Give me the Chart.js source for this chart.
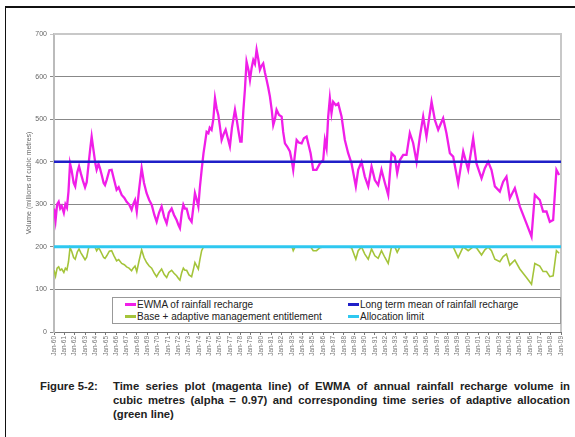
<!DOCTYPE html>
<html lang="en">
<head>
    <meta charset="UTF-8">
    <title>Figure 5-2</title>
    <script src="https://cdn.jsdelivr.net/npm/chart.js"></script>
    <style>
        body { margin: 0; background: #fff; font-family: Arial, "Liberation Sans", sans-serif; }
        #page { position: relative; width: 575px; height: 437px; overflow: hidden; }
        #chart { position: absolute; left: 0; top: 0; }
        .frame-top { position: absolute; left: 5px; top: 6px; width: 570px; height: 2px; background: #111; }
        .frame-left { position: absolute; left: 5px; top: 6px; width: 1px; height: 431px; background: #111; }
        #legend { position: absolute; left: 112px; top: 297px; width: 447px; height: 25px;
                  border: 1px solid #999; background: #fff; font-size: 10px; color: #222; }
        .item { position: absolute; white-space: nowrap; line-height: 12px; }
        .item i { display: inline-block; width: 11px; height: 3px; vertical-align: middle; margin-right: 1px; position: relative; top: -1px; }
        .caption { position: absolute; font-weight: bold; font-size: 11.3px; color: #222; white-space: nowrap; line-height: 14px; }
        .just { width: 457px; text-align: justify; text-align-last: justify; }
    </style>
</head>
<body>
<div id="page">
    <div class="frame-top"></div>
    <div class="frame-left"></div>
    <canvas id="chart" width="575" height="365"></canvas>

    <div id="legend">
        <div class="item" style="left:12px; top:1px;"><i style="background:#f01ee8"></i>EWMA of rainfall recharge</div>
        <div class="item" style="left:235px; top:1px;"><i style="background:#1f1fc8"></i>Long term mean of rainfall recharge</div>
        <div class="item" style="left:12px; top:13px;"><i style="background:#a4c43a"></i>Base + adaptive management entitlement</div>
        <div class="item" style="left:235px; top:13px;"><i style="background:#2ec8f0"></i>Allocation limit</div>
    </div>

    <div class="caption" style="left:40px; top:379px;">Figure 5-2:</div>
    <div class="caption just" style="left:113px; top:379px;">Time series plot (magenta line) of EWMA of annual rainfall recharge volume in</div>
    <div class="caption just" style="left:113px; top:393px;">cubic metres (alpha = 0.97) and corresponding time series of adaptive allocation</div>
    <div class="caption" style="left:113px; top:407px;">(green line)</div>
</div>

<script>
    // Time (decimal years) and volumes (millions of m3)
    const years = [
        1960.00, 1960.15, 1960.30, 1960.45, 1960.60, 1960.75, 1960.95, 1961.10, 1961.25, 1961.40,
        1961.55, 1961.70, 1961.90, 1962.05, 1962.25, 1962.42, 1962.60, 1962.80, 1963.00, 1963.16,
        1963.35, 1963.50, 1963.64, 1963.80, 1964.00, 1964.12, 1964.30, 1964.44, 1964.60, 1964.80,
        1964.93, 1965.10, 1965.35, 1965.57, 1965.80, 1966.05, 1966.25, 1966.54, 1966.80, 1967.02,
        1967.25, 1967.50, 1967.65, 1967.83, 1968.00, 1968.20, 1968.47, 1968.70, 1968.95, 1969.20,
        1969.44, 1969.70, 1969.92, 1970.15, 1970.40, 1970.65, 1970.89, 1971.10, 1971.37, 1971.60,
        1971.85, 1972.05, 1972.17, 1972.35, 1972.50, 1972.65, 1972.82, 1973.05, 1973.30, 1973.50,
        1973.62, 1973.80, 1973.95, 1974.10, 1974.27, 1974.45, 1974.59, 1974.75, 1974.92, 1975.05,
        1975.23, 1975.40, 1975.56, 1975.72, 1975.88, 1976.05, 1976.20, 1976.40, 1976.59, 1976.80,
        1977.00, 1977.20, 1977.49, 1977.65, 1977.81, 1978.00, 1978.13, 1978.30, 1978.45, 1978.61,
        1978.80, 1978.94, 1979.10, 1979.26, 1979.42, 1979.58, 1979.75, 1979.90, 1980.05, 1980.22,
        1980.38, 1980.55, 1980.70, 1980.87, 1981.05, 1981.19, 1981.35, 1981.51, 1981.75, 1982.00,
        1982.15, 1982.32, 1982.55, 1982.80, 1983.00, 1983.12, 1983.30, 1983.45, 1983.65, 1983.93,
        1984.15, 1984.41, 1984.60, 1984.80, 1985.05, 1985.37, 1985.70, 1986.02, 1986.18, 1986.34,
        1986.50, 1986.66, 1986.82, 1986.98, 1987.24, 1987.47, 1987.79, 1988.11, 1988.43, 1988.76,
        1989.17, 1989.40, 1989.72, 1990.04, 1990.37, 1990.69, 1991.01, 1991.33, 1991.65, 1991.98,
        1992.30, 1992.62, 1992.94, 1993.17, 1993.43, 1993.75, 1994.07, 1994.39, 1994.71, 1995.04,
        1995.36, 1995.68, 1996.00, 1996.49, 1996.81, 1997.13, 1997.61, 1997.93, 1998.26, 1998.58,
        1999.06, 1999.55, 2000.03, 2000.51, 2000.83, 2001.32, 2001.64, 2001.96, 2002.28, 2002.61,
        2003.09, 2003.41, 2003.73, 2004.05, 2004.54, 2005.02, 2005.66, 2006.15, 2006.47, 2006.95,
        2007.27, 2007.60, 2007.92, 2008.24, 2008.56, 2008.82
    ];

    const ewma = [
        290, 262, 300, 306, 290, 296, 280, 300, 292, 330,
        396, 380, 350, 342, 375, 389, 372, 355, 340, 352,
        396, 430, 459, 430, 395, 381, 395, 385, 370, 350,
        345, 358, 380, 381, 358, 334, 340, 322, 315, 306,
        300, 287, 300, 310, 283, 330, 385, 350, 326, 310,
        299, 275, 259, 280, 295, 270, 255, 280, 290, 275,
        263, 250, 244, 280, 299, 290, 290, 268, 259, 300,
        326, 310, 295, 340, 381, 420, 443, 470, 467, 480,
        475, 500, 549, 525, 510, 480, 451, 465, 475, 455,
        436, 480, 522, 500, 475, 447, 447, 520, 569, 635,
        615, 592, 620, 639, 630, 663, 640, 616, 625, 631,
        610, 592, 575, 553, 520, 486, 500, 522, 510, 506,
        470, 443, 435, 424, 400, 381, 420, 451, 445, 443,
        455, 459, 440, 420, 381, 381, 396, 404, 451, 432,
        506, 549, 514, 541, 533, 537, 506, 451, 420, 396,
        342, 381, 400, 365, 342, 389, 357, 345, 381, 350,
        322, 420, 412, 373, 404, 416, 416, 467, 444, 400,
        459, 506, 459, 541, 498, 475, 502, 467, 420, 412,
        349, 424, 381, 455, 396, 361, 385, 400, 381, 342,
        330, 353, 365, 314, 338, 295, 255, 224, 322, 310,
        283, 283, 259, 263, 381, 369
    ];

    const entitlement = [
        145, 131, 150, 153, 145, 148, 140, 150, 146, 165,
        198, 190, 175, 171, 188, 195, 186, 178, 170, 176,
        198, 200, 200, 200, 198, 191, 198, 193, 185, 175,
        173, 179, 190, 191, 179, 167, 170, 161, 158, 153,
        150, 144, 150, 155, 142, 165, 193, 175, 163, 155,
        150, 138, 130, 140, 148, 135, 128, 140, 145, 138,
        132, 125, 122, 140, 150, 145, 145, 134, 130, 150,
        163, 155, 148, 170, 191, 200, 200, 200, 200, 200,
        200, 200, 200, 200, 200, 200, 200, 200, 200, 200,
        200, 200, 200, 200, 200, 200, 200, 200, 200, 200,
        200, 200, 200, 200, 200, 200, 200, 200, 200, 200,
        200, 200, 200, 200, 200, 200, 200, 200, 200, 200,
        200, 200, 200, 200, 200, 191, 200, 200, 200, 200,
        200, 200, 200, 200, 191, 191, 198, 200, 200, 200,
        200, 200, 200, 200, 200, 200, 200, 200, 200, 198,
        171, 191, 200, 183, 171, 195, 179, 173, 191, 175,
        161, 200, 200, 187, 200, 200, 200, 200, 200, 200,
        200, 200, 200, 200, 200, 200, 200, 200, 200, 200,
        175, 200, 191, 200, 198, 181, 193, 200, 191, 171,
        165, 177, 183, 157, 169, 148, 128, 112, 161, 155,
        142, 142, 130, 132, 191, 185
    ];

    const longTermMean = 400;
    const allocationLimit = 200;
    const firstYear = 1960;
    const lastYear = 2009;

    const pts = vals => years.map((x, i) => ({ x: x, y: vals[i] }));
    const flat = v => [{ x: firstYear, y: v }, { x: lastYear, y: v }];

    // light grey frame round the plot area (top and right side)
    const plotFrame = {
        id: 'plotFrame',
        beforeDatasetsDraw(chart) {
            const { ctx, chartArea: a } = chart;
            ctx.save();
            ctx.strokeStyle = '#c8c8c8';
            ctx.lineWidth = 2;
            ctx.beginPath();
            ctx.moveTo(a.left, a.top);
            ctx.lineTo(a.right, a.top);
            ctx.lineTo(a.right, a.bottom);
            ctx.stroke();
            ctx.restore();
        }
    };

    new Chart(document.getElementById('chart'), {
        type: 'line',
        data: {
            datasets: [
                { label: 'Allocation limit', data: flat(allocationLimit), borderColor: '#2ec8f0', borderWidth: 3, order: 0 },
                { label: 'Long term mean of rainfall recharge', data: flat(longTermMean), borderColor: '#1f1fc8', borderWidth: 2.5, order: 1 },
                { label: 'EWMA of rainfall recharge', data: pts(ewma), borderColor: '#f01ee8', borderWidth: 2.3, order: 2 },
                { label: 'Base + adaptive management entitlement', data: pts(entitlement), borderColor: '#a4c43a', borderWidth: 1.6, order: 3 }
            ]
        },
        options: {
            responsive: false,
            animation: false,
            elements: { point: { radius: 0 }, line: { tension: 0 } },
            plugins: { legend: { display: false }, tooltip: { enabled: false } },
            layout: { padding: { left: 20, top: 34, right: 14, bottom: 0 } },
            scales: {
                x: {
                    type: 'linear',
                    min: firstYear,
                    max: lastYear,
                    ticks: {
                        stepSize: 1,
                        autoSkip: false,
                        maxRotation: 90,
                        minRotation: 90,
                        padding: 1,
                        color: '#777',
                        font: { family: 'Arial', size: 6.5 },
                        callback: v => 'Jan-' + String(v % 100).padStart(2, '0')
                    },
                    grid: { drawOnChartArea: false, tickLength: 3, color: '#777' },
                    border: { color: '#777' },
                    afterFit: s => { s.height = 33; }
                },
                y: {
                    min: 0,
                    max: 700,
                    ticks: { stepSize: 100, color: '#666', padding: 3, font: { family: 'Arial', size: 7 } },
                    grid: { color: ctx => (ctx.tick && ctx.tick.value === 700) ? '#c8c8c8' : '#888', tickLength: 4 },
                    border: { color: '#bbb', width: 2 },
                    title: { display: true, text: 'Volume (millions of cubic metres)', color: '#666', font: { family: 'Arial', size: 7 }, padding: { top: 5, bottom: 0 } },
                    afterFit: s => { s.width = 34; }
                }
            }
        },
        plugins: [plotFrame]
    });
</script>
</body>
</html>
